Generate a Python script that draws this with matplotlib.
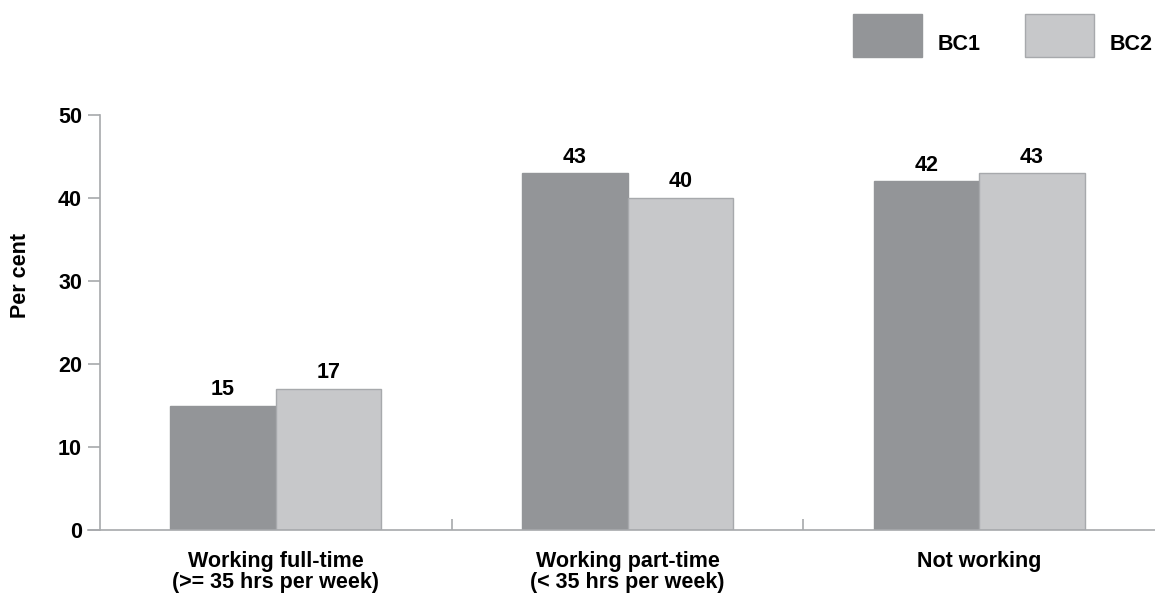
import matplotlib
matplotlib.use("Agg")
import matplotlib.pyplot as plt
from matplotlib.patches import Rectangle
import numpy as np

categories = ["Working full-time\n(>= 35 hrs per week)",
              "Working part-time\n(< 35 hrs per week)",
              "Not working"]
series_names = ["BC1", "BC2"]
bc1_values = [15, 43, 42]
bc2_values = [17, 40, 43]
y_ticks = [0, 10, 20, 30, 40, 50]

colors = ["#939598", "#c7c8ca"]
edge_colors = ["#939598", "#a7a9ac"]
axis_color = "#a7a9ac"
FS = 15.5

plt.rcParams["font.family"] = ["Liberation Sans", "DejaVu Sans"]
plt.rcParams["font.weight"] = "bold"

W, H = 1155, 594
fig = plt.figure(figsize=(W / 100, H / 100), dpi=100)
ax = fig.add_axes([100 / W, 64 / H, 1055 / W, 415 / H])

x = np.arange(len(categories))
width = 0.30
for i, (vals, name) in enumerate(zip([bc1_values, bc2_values], series_names)):
    offs = (i - 0.5) * width
    bars = ax.bar(x + offs, vals, width, color=colors[i], edgecolor=edge_colors[i],
                  linewidth=1, label=name, zorder=2)
    for b, v in zip(bars, vals):
        ax.annotate(f"{v}", (b.get_x() + b.get_width() / 2, v),
                    xytext=(0, 4), textcoords="offset points",
                    ha="center", va="bottom", fontsize=FS, fontweight="bold")

ax.set_xlim(-0.5, len(categories) - 0.5)
ax.set_ylim(0, 50)
ax.set_yticks(y_ticks)
ax.tick_params(axis="y", direction="out", length=9, width=1.2, color=axis_color,
               labelsize=FS, pad=4)

# category labels without tick marks; short dividers between groups
ax.set_xticks(x)
ax.set_xticklabels(categories, fontsize=FS, fontweight="bold", linespacing=0.98)
ax.tick_params(axis="x", length=0, pad=15)
ax.set_xticks(x[:-1] + 0.5, minor=True)
ax.tick_params(axis="x", which="minor", direction="in", length=8, width=1.2, color=axis_color)

for side in ["top", "right"]:
    ax.spines[side].set_visible(False)
for side in ["left", "bottom"]:
    ax.spines[side].set_color(axis_color)
    ax.spines[side].set_linewidth(1.2)
ax.spines["bottom"].set_bounds(-0.5 - 12 / 351.7, len(categories) - 0.5)
ax.spines["bottom"].set_clip_on(False)

fig.text(20 / W, 1 - 276 / H, "Per cent", rotation=90, ha="center", va="center",
         fontsize=FS, fontweight="bold")

# legend boxes across the top right
legend_x = [853, 1025]
for i, name in enumerate(series_names):
    fig.patches.append(Rectangle((legend_x[i] / W, 1 - 57 / H), 69 / W, 43 / H,
                                 transform=fig.transFigure, facecolor=colors[i],
                                 edgecolor=edge_colors[i], linewidth=1))
    fig.text((legend_x[i] + 85) / W, 1 - 44 / H, name, ha="left", va="center",
             fontsize=FS, fontweight="bold")

fig.savefig("out.png", dpi=100)
